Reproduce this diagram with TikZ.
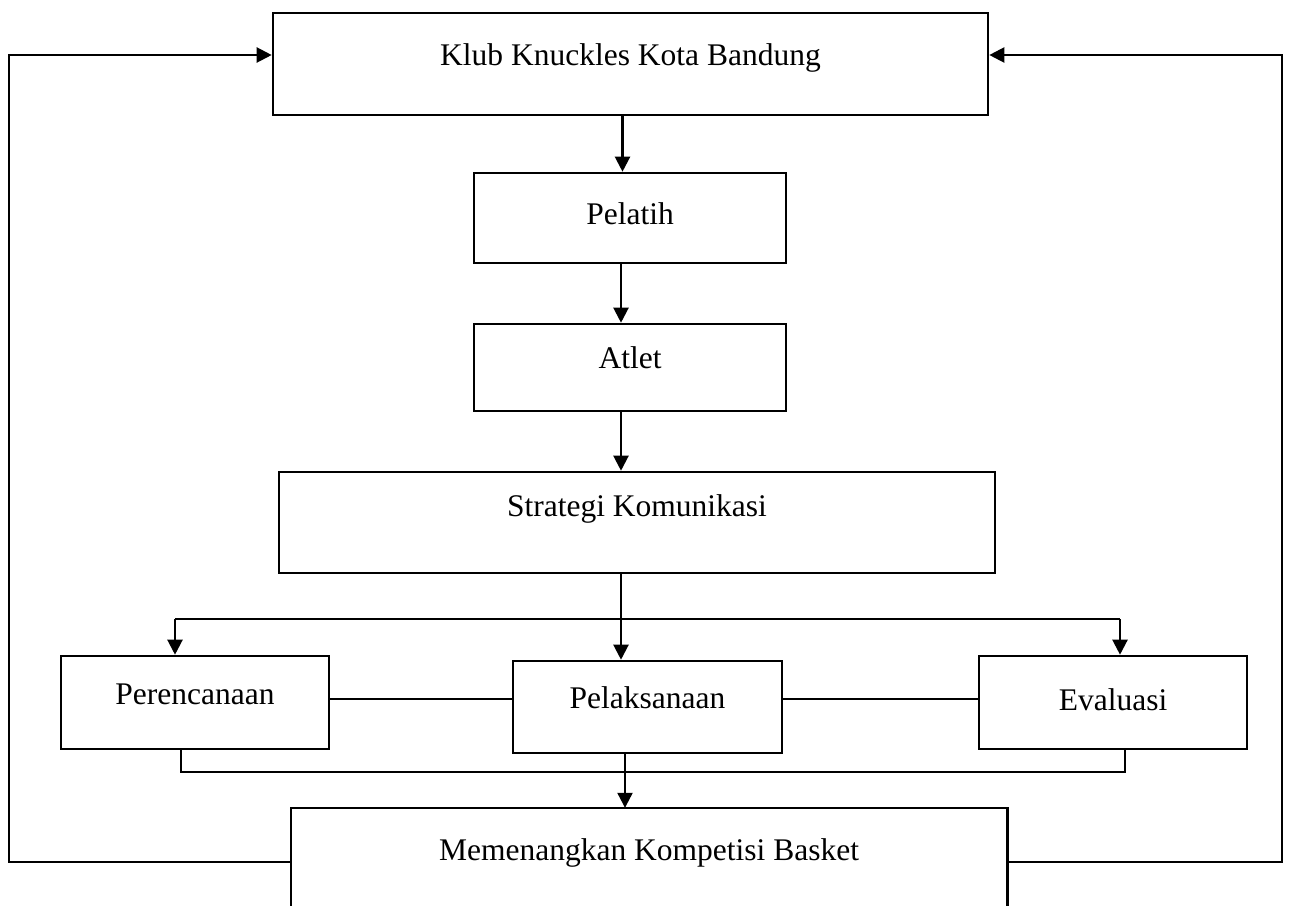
\documentclass[tikz,border=0pt]{standalone}
\usepackage{fontspec}
\setmainfont{Liberation Serif}
\usetikzlibrary{arrows.meta}
\tikzset{
  box/.style={draw=black, line width=2.6pt, rectangle, inner sep=0pt, text height=22pt,
    font=\fontsize{31.5}{36}\selectfont},
  openbox/.style={draw=none, rectangle, inner sep=0pt, text height=22pt,
    font=\fontsize{31.5}{36}\selectfont},
  arr/.style={line width=2.2pt, -{Triangle[length=15pt,width=15pt]}},
  thinline/.style={line width=1.6pt},
  sideline/.style={line width=2.6pt},
}
\begin{document}
\begin{tikzpicture}[x=1pt, y=-1pt]
\useasboundingbox (0,0) rectangle (1289,905);
\node[box, minimum width=715pt, minimum height=102pt, text depth=19.1pt] (top) at (630.5,64) {Klub Knuckles Kota Bandung};
\node[box, minimum width=312pt, minimum height=90pt, text depth=9.1pt] (pel) at (630,218) {Pelatih};
\node[box, minimum width=312pt, minimum height=87pt, text depth=19.1pt] (atl) at (630,367.5) {Atlet};
\node[box, minimum width=716pt, minimum height=101pt, text depth=34.1pt] (str) at (637,522.5) {Strategi Komunikasi};
\node[box, minimum width=268pt, minimum height=93pt, text depth=18.1pt] (per) at (195,702.5) {Perencanaan};
\node[box, minimum width=269pt, minimum height=92pt, text depth=18.1pt] (pla) at (647.5,707) {Pelaksanaan};
\node[box, minimum width=268pt, minimum height=93pt, text depth=5.1pt] (eva) at (1113,702.5) {Evaluasi};
\node[openbox, minimum width=716pt, minimum height=100pt, text depth=17.1pt] (bot) at (649,858) {Memenangkan Kompetisi Basket};
\draw[sideline] (bot.south west) -- (bot.north west) -- (bot.north east) -- (bot.south east);

% coordinates
\coordinate (a1) at (622.5,0);
\coordinate (a2) at (621,0);
\coordinate (br) at (621,619);
\coordinate (bl) at (175,619);
\coordinate (brr) at (1120,619);
\coordinate (hy) at (0,699);
\coordinate (jl) at (181,772);
\coordinate (jr) at (1125,772);
\coordinate (jx) at (625,0);
\coordinate (Lc) at (9,450);
\coordinate (Rc) at (1282,450);

% vertical chain
\draw[arr] (top.south -| a1) -- (pel.north -| a1);
\draw[arr] (pel.south -| a2) -- (atl.north -| a2);
\draw[arr] (atl.south -| a2) -- (str.north -| a2);

% branching
\draw[thinline] (str.south -| br) -- (br);
\draw[thinline] (bl) -- (brr);
\draw[arr] (bl) -- (per.north -| bl);
\draw[arr] (br) -- (pla.north -| br);
\draw[arr] (brr) -- (eva.north -| brr);

% horizontal links
\draw[thinline] (per.east |- hy) -- (pla.west |- hy);
\draw[thinline] (pla.east |- hy) -- (eva.west |- hy);

% collector
\draw[thinline] (per.south -| jl) -- (jl) -- (jr) -- (eva.south -| jr);
\draw[arr] (pla.south -| jx) -- (bot.north -| jx);

% feedback
\draw[arr] ([yshift=-4pt]bot.west) -| (Lc) |- ([yshift=9pt]top.west);
\draw[arr] ([yshift=-4pt]bot.east) -| (Rc) |- ([yshift=9pt]top.east);
\end{tikzpicture}
\end{document}
